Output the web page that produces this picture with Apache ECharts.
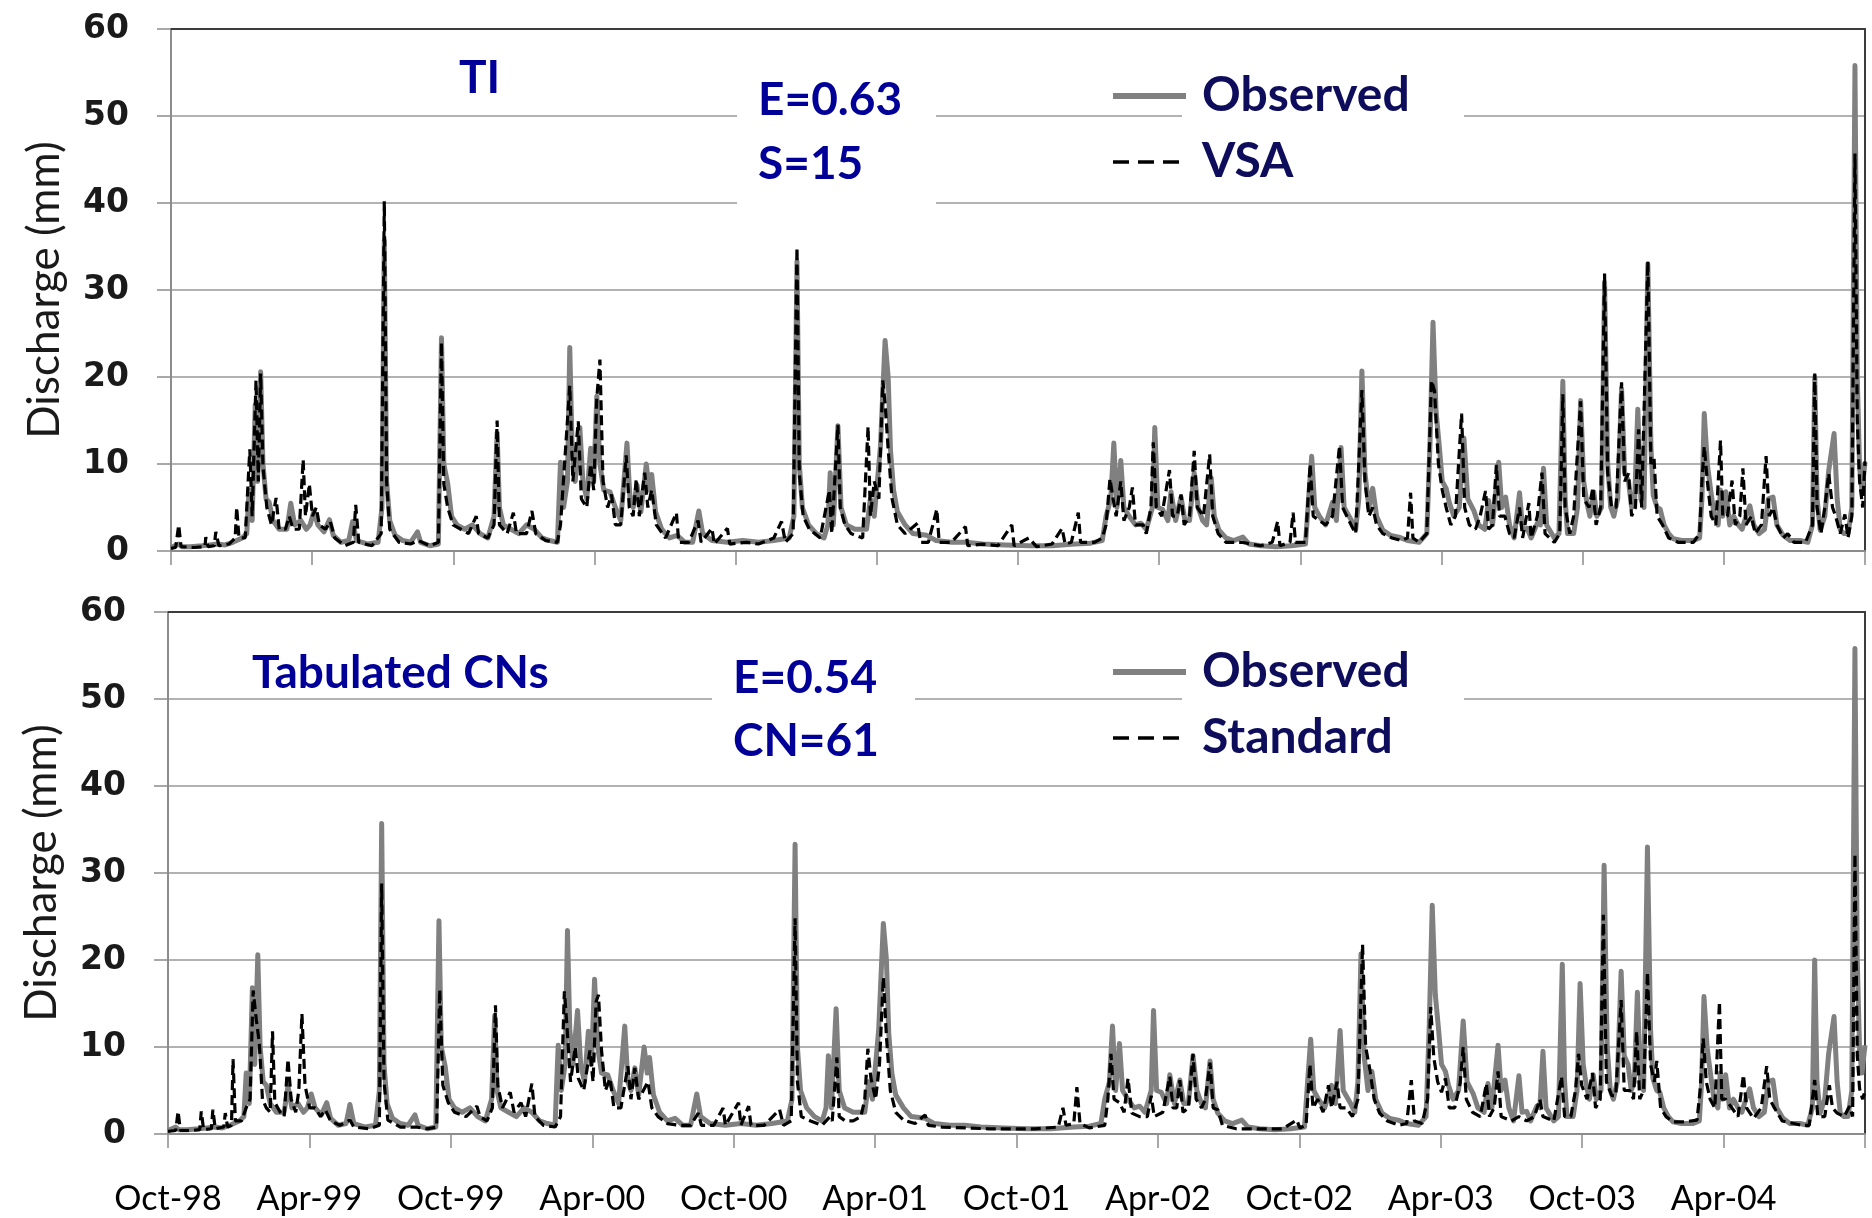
<!DOCTYPE html>
<html>
<head>
<meta charset="utf-8">
<title>Discharge: observed vs simulated</title>
<script src="https://cdn.jsdelivr.net/npm/echarts@6.0.0/dist/echarts.min.js"></script>
<style>
    html, body { margin: 0; padding: 0; background: #fff; }
    #container { width: 1872px; height: 1218px; }
</style>
</head>
<body>
<div id="container"></div>
<script>
// x values are days since 1 Oct 1998, y values are discharge in mm
var tickLabels = ['Oct-98', 'Apr-99', 'Oct-99', 'Apr-00', 'Oct-00', 'Apr-01',
    'Oct-01', 'Apr-02', 'Oct-02', 'Apr-03', 'Oct-03', 'Apr-04'];

var observed = [
    [0,0.4],[10,0.8],[14,0.5],[25,0.5],[40,0.6],[50,0.7],[60,0.8],[70,0.7],[80,1.0],[92,1.5],[98,2],
    [101,7.0],[105,3.5],[109,16.8],[112,8],[116,20.6],[119,10],[123,6],[127,5.6],[132,3.5],[140,2.5],
    [150,2.5],[155,5.5],[160,3],[168,3.5],[175,2.5],[180,3],[185,4.6],[190,3],[198,2.2],[205,3.6],
    [210,1.8],[220,1.0],[230,1.2],[235,3.4],[240,1.2],[255,0.8],[268,1.0],[273,5],[276,35.7],[279,8],
    [283,3.5],[290,1.8],[300,1.2],[310,1.0],[319,2.2],[323,1.0],[335,0.6],[346,0.8],[350,24.5],[353,10],
    [358,7.8],[363,4],[370,3.0],[380,2.5],[390,3.0],[400,2.0],[410,1.5],[418,4],[422,13.6],[425,5],
    [430,3],[440,2.5],[450,2.0],[460,3.0],[470,2.5],[480,1.5],[490,1.2],[500,1.0],[504,10.2],[508,5],
    [513,8],[516,23.4],[519,12],[523,8],[529,14.2],[533,8],[538,6],[543,11.8],[547,8],[551,17.8],
    [555,10],[560,7],[568,6.8],[575,5],[582,3.5],[590,12.4],[594,6],[598,5],[603,7.6],[608,4.5],
    [615,10],[619,7],[622,8.8],[627,4.5],[635,2.5],[645,1.5],[655,1.8],[665,1.0],[675,1.0],[683,4.6],
    [688,2.0],[700,1.2],[720,1.0],[740,1.2],[760,1.0],[780,1.2],[800,1.5],[806,4],[810,33.3],[813,10],
    [817,5],[825,3],[835,2],[845,1.5],[850,3],[853,9],[857,3],[863,14.4],[867,5],[874,3],[885,2.5],
    [895,2.5],[900,2.5],[905,6],[910,4],[918,12],[924,24.2],[928,20],[931,11.6],[935,7],[940,4.5],
    [950,3],[960,2],[978,1.8],[990,1.2],[1010,1.0],[1029,1.0],[1050,0.8],[1080,0.7],[1110,0.6],
    [1140,0.6],[1170,0.8],[1190,0.9],[1205,1.2],[1210,4],[1216,6],[1220,12.4],[1224,5],[1229,10.4],
    [1233,5],[1240,4],[1248,3],[1255,3.2],[1262,2.5],[1270,5],[1273,14.2],[1277,5],[1283,4.8],
    [1290,3.5],[1294,6.8],[1300,3.5],[1307,6.2],[1312,3.5],[1318,3.5],[1324,9],[1329,5],[1335,3.5],
    [1340,3],[1346,8.4],[1350,4],[1356,2.4],[1365,1.5],[1375,1.2],[1387,1.6],[1395,0.8],[1410,0.6],
    [1430,0.5],[1450,0.6],[1468,0.8],[1472,6],[1476,10.9],[1480,5],[1486,4],[1494,3],[1503,5.6],
    [1508,3.5],[1514,11.9],[1518,5],[1527,3.6],[1533,2.5],[1537,6],[1541,20.7],[1545,9],[1550,5],
    [1555,7.2],[1560,4],[1568,2.4],[1578,1.8],[1589,1.6],[1600,1.2],[1615,1.0],[1625,2],[1629,12],
    [1633,26.3],[1637,16],[1641,12.2],[1645,8],[1650,7.2],[1654,5.6],[1660,4],[1667,5],[1673,13],
    [1678,6],[1686,4.6],[1692,3],[1700,2.5],[1705,5.8],[1710,3],[1718,10.2],[1722,5],[1727,6.2],
    [1732,3],[1738,1.5],[1745,6.7],[1749,2.5],[1755,2.6],[1760,1.5],[1768,3.2],[1772,3],[1776,9.5],
    [1780,3],[1790,1.5],[1796,2],[1801,19.5],[1804,6],[1807,2.0],[1815,2],[1820,5],[1824,17.3],
    [1828,8],[1832,5.6],[1836,4],[1841,6.8],[1845,4],[1851,5],[1855,30.9],[1859,10],[1863,5],[1867,4],
    [1872,6],[1877,18.7],[1881,9],[1886,8],[1890,5],[1894,6],[1898,16.3],[1902,6],[1906,5],[1911,33],
    [1915,12],[1918,6.4],[1923,5],[1927,4.8],[1932,3],[1938,2],[1944,1.4],[1955,1.2],[1970,1.2],
    [1978,1.5],[1981,6],[1984,15.8],[1988,10],[1992,7.2],[1997,4],[2002,3],[2005,7],[2008,4],
    [2012,6.8],[2017,3],[2022,4],[2028,3],[2033,2.5],[2038,4],[2043,5.2],[2048,3],[2055,2],[2062,2.5],
    [2067,6],[2073,6.2],[2078,3],[2086,1.8],[2095,1.2],[2108,1.2],[2118,1.0],[2124,3],[2127,20],
    [2130,6],[2134,2.4],[2140,4],[2145,9.2],[2152,13.5],[2156,6],[2160,2.4],[2165,2],[2170,2],[2175,5],
    [2179,55.8],[2182,20],[2185,9.6],[2188,7],[2192,10.2]
];

// TI based model (top panel)
var vsa = [
    [0,0.3],[6,0.4],[10,3.0],[13,0.5],[30,0.4],[44,0.5],[45,1.6],[48,0.5],[56,0.6],[58,2.2],[62,0.6],
    [75,0.8],[83,1.5],[85,5],[88,1.5],[96,1.5],[102,11.7],[105,4],[110,19.6],[113,8],[116,20.4],
    [119,9.7],[124,5],[130,3],[136,6.1],[140,2.5],[148,2.5],[153,4],[158,2.5],[166,2.5],[171,10.5],
    [174,4],[179,7.7],[183,4],[188,5],[192,3],[200,2.5],[206,3.4],[212,1.5],[225,0.6],[236,1],
    [239,5.3],[243,1.0],[260,0.6],[272,2],[276,40.2],[279,8],[283,2.5],[295,1],[310,0.8],[320,1.2],
    [335,0.6],[346,1],[350,24],[353,7.7],[358,5],[365,3],[375,2.5],[385,2],[395,4],[398,2],[410,1.5],
    [418,3],[422,15],[425,3],[435,2],[443,4.4],[447,2],[460,2],[467,4.6],[472,2],[485,1.2],[500,1.0],
    [504,3],[516,19],[520,8],[527,14.9],[531,6],[538,5],[543,10],[547,7],[551,17.6],[555,22],[559,8],
    [565,5],[570,6.5],[575,3],[582,3],[589,11],[593,5],[598,4],[602,8.3],[606,4],[613,9],[617,5],
    [622,7],[628,3],[640,1.5],[654,4.4],[657,1],[670,1],[682,3.5],[686,1],[700,2.6],[703,0.8],
    [720,2.6],[723,0.8],[745,1],[760,0.8],[780,1.5],[790,3.4],[795,1],[805,2],[810,34.9],[813,9],
    [818,4],[826,2.5],[840,1.5],[852,7],[855,2],[863,14.5],[866,5],[872,3],[880,2],[895,1.5],
    [902,14.3],[905,4],[910,8],[916,6],[921,19.6],[924,17],[928,11.7],[933,6],[940,3],[950,2],
    [966,3.2],[970,1],[980,1],[991,4.8],[994,1],[1010,1],[1028,2.8],[1031,0.6],[1050,0.8],[1070,0.6],
    [1088,3],[1091,0.6],[1110,1.5],[1120,0.5],[1140,0.8],[1153,2.6],[1157,0.8],[1165,1],[1174,4.4],
    [1177,1],[1195,1],[1205,1.5],[1210,3],[1215,8.3],[1219,6],[1223,4],[1229,8],[1233,3.5],[1240,5],
    [1244,7.3],[1248,3],[1258,3],[1262,2],[1268,5],[1271,12.5],[1275,5],[1282,4],[1292,9.3],[1296,4],
    [1302,4],[1307,6.5],[1311,3],[1318,4],[1324,11.5],[1328,5],[1336,4],[1344,11.1],[1348,4],
    [1355,2],[1365,1],[1385,1],[1410,0.6],[1425,1],[1432,3.4],[1435,0.6],[1448,1],[1452,4.4],
    [1455,1],[1468,1],[1474,10],[1478,4],[1486,3.5],[1494,3],[1503,4],[1512,12.1],[1516,5],[1527,3],
    [1533,2],[1541,18.5],[1545,8],[1550,4],[1555,5],[1560,3],[1568,2],[1580,1.5],[1592,1.2],
    [1600,1.5],[1604,6.7],[1607,1.5],[1615,1],[1625,2],[1631,19.6],[1635,18.4],[1640,10],[1645,7],
    [1650,5],[1656,3],[1662,4],[1670,15.8],[1674,5],[1680,3],[1688,2.5],[1694,4],[1701,6.9],
    [1705,2.5],[1710,3],[1715,9.9],[1719,4],[1726,4],[1732,2],[1738,1.5],[1745,5],[1749,1.5],
    [1757,5.5],[1760,1.5],[1768,4],[1774,9],[1778,2],[1790,1],[1797,2],[1801,18],[1804,5],[1810,2],
    [1815,4],[1819,10],[1824,17.2],[1828,6],[1835,5],[1840,7.3],[1844,3],[1850,5],[1855,31.9],
    [1859,9],[1864,5],[1870,5],[1877,19.4],[1881,8],[1886,8.9],[1890,4],[1895,5],[1899,14],[1903,5],
    [1911,33.3],[1915,10],[1919,10.7],[1923,4],[1930,3],[1938,1.5],[1950,1],[1970,1],[1978,2],
    [1981,8],[1984,12],[1988,8],[1993,4],[1999,3],[2005,12.7],[2008,4],[2014,4],[2020,8.1],[2024,3],
    [2030,4],[2034,9.5],[2038,3],[2045,4],[2050,2],[2058,3],[2064,10.9],[2068,4],[2073,5],[2078,3],
    [2086,1.5],[2092,2],[2100,1],[2115,1],[2124,3],[2127,20.4],[2130,5],[2135,2],[2140,5],[2145,8.9],
    [2150,5],[2154,4],[2160,2],[2166,4.2],[2170,1.5],[2175,4],[2179,45.7],[2182,15],[2185,8],
    [2189,5],[2192,10.3]
];

// tabulated curve numbers (bottom panel)
var standard = [
    [0,0.3],[10,0.4],[13,2.6],[16,0.4],[30,0.4],[41,0.5],[43,2.6],[46,0.5],[56,0.6],[58,2.8],[61,0.6],
    [72,0.8],[74,2.4],[77,0.8],[82,1],[84,8.6],[87,1.5],[95,1.5],[101,3],[106,4],[110,16.5],
    [114,13.2],[118,10.4],[122,4],[127,3],[132,2.5],[135,11.8],[138,3.6],[145,2.5],[150,2],[155,8.6],
    [159,4],[165,2.5],[169,5],[173,13.8],[177,5.6],[183,3],[190,3],[197,2],[203,2.8],[210,1.5],
    [222,1.0],[235,1.6],[240,0.8],[260,0.6],[273,1],[276,28.8],[279,6],[284,1.6],[300,0.8],[320,0.8],
    [335,0.6],[347,0.8],[351,16.6],[355,5.6],[362,3.6],[370,2.5],[385,2],[399,3.2],[403,2],[412,1.5],
    [419,3],[423,14.8],[426,5.6],[432,3],[442,4.8],[447,2.5],[456,3.6],[462,2],[470,5.8],[474,2],
    [485,1],[500,0.8],[507,2],[512,16.4],[515,12.8],[520,6],[526,10],[530,6.4],[537,5],[545,9.6],
    [549,6],[553,15.2],[556,16],[560,9.6],[565,5],[571,6.4],[576,3],[585,3],[594,7.8],[598,4],
    [603,7.6],[608,4],[614,5],[620,6],[625,3],[633,2],[645,1.2],[660,1],[675,1],[685,2.4],[689,1],
    [705,1],[717,3],[720,1],[737,3.6],[740,1],[750,3.2],[753,1],[770,1],[790,2.8],[795,1],[805,1.5],
    [810,24.8],[813,6],[818,2],[830,1.5],[845,1],[855,2],[858,1.5],[864,8.8],[867,2],[875,1.5],
    [885,1.5],[895,2],[900,4],[904,9.8],[908,6.4],[914,4],[919,8],[924,18],[928,11.2],[933,5],
    [940,2.5],[950,1.6],[965,1.2],[978,2.2],[982,1],[1000,0.8],[1030,0.7],[1060,0.6],[1090,0.6],
    [1120,0.6],[1150,0.8],[1156,3],[1160,1],[1170,1.2],[1174,5.4],[1178,1.2],[1190,0.7],[1210,1],
    [1214,4],[1218,9.2],[1222,4],[1229,3.6],[1235,2.5],[1240,6.4],[1245,2.4],[1255,2],[1265,2],
    [1270,4.4],[1274,2],[1285,2.5],[1294,6.6],[1298,3],[1303,3],[1307,6.2],[1311,2.5],[1318,3],
    [1324,9.2],[1328,4],[1335,3],[1340,4],[1346,8.2],[1350,3],[1356,2.8],[1362,1],[1380,0.6],
    [1410,0.6],[1440,0.6],[1458,1.6],[1462,0.7],[1470,1],[1475,8],[1479,3],[1485,4],[1492,2.5],
    [1499,5.6],[1503,3],[1510,6],[1514,3],[1522,3],[1530,2],[1537,4],[1543,21.8],[1547,10],
    [1552,7.6],[1558,4],[1565,2.4],[1575,1.5],[1590,1],[1600,1.2],[1606,6.2],[1610,1.5],[1620,1.2],
    [1627,4],[1631,14.6],[1635,8.8],[1640,6],[1645,4.8],[1650,6.4],[1655,3],[1662,3],[1669,5.8],
    [1673,10],[1677,4],[1685,2.5],[1695,2],[1703,5.8],[1707,2],[1713,3],[1718,7.2],[1722,2],
    [1735,1.5],[1745,2],[1755,1.5],[1765,2],[1772,4],[1776,2],[1790,1.5],[1800,6.6],[1804,2],
    [1812,2],[1818,5],[1822,9.2],[1826,5.6],[1833,4],[1840,7],[1844,3],[1850,4],[1854,25.2],[1858,6],
    [1865,4.4],[1870,4.4],[1877,15.4],[1881,5],[1888,5],[1893,4],[1897,11.8],[1901,4],[1906,5],
    [1911,18.6],[1915,8],[1920,6],[1923,8.4],[1928,3],[1935,2],[1944,1.4],[1960,1.4],[1975,1.6],
    [1979,5],[1983,11],[1987,6],[1992,4],[1998,3],[2004,15.2],[2007,4],[2012,4],[2020,3],[2028,2],
    [2035,6.8],[2039,3],[2048,1.8],[2058,3],[2065,7.8],[2069,4],[2075,3],[2085,1.5],[2100,1.2],
    [2110,1],[2120,1],[2127,6.2],[2131,2],[2140,2],[2146,5.6],[2150,3],[2156,2.4],[2165,2],[2172,3.2],
    [2176,2],[2179,32.2],[2182,9],[2185,5.2],[2189,4],[2192,5]
];

var totalDays = 2192;           // 1 Oct 1998 .. 1 Oct 2004
var step = totalDays / 12;      // one tick every six months

function draw() {
    var dom = document.getElementById('container');
    var myChart = echarts.init(dom, null, { renderer: 'canvas' });

    var gridGrey = '#8c8c8c';
    var frame = '#3c3c3c';
    var blue = '#000099';
    var navy = '#0d0d5c';
    var hidden = { color: 'rgba(0,0,0,0)', borderColor: 'rgba(0,0,0,0)', borderWidth: 0, opacity: 0 };

    function bottomAxis(i, labels) {
        return {
            gridIndex: i,
            type: 'value',
            min: 0,
            max: totalDays,
            interval: step,
            axisLine: { onZero: false, lineStyle: { color: gridGrey, width: 2 } },
            axisTick: { length: 14, lineStyle: { color: gridGrey, width: 1.5 } },
            axisLabel: {
                show: labels,
                margin: 48,
                fontFamily: 'Lato',
                fontSize: 34,
                color: '#000',
                formatter: function (v) {
                    return tickLabels[Math.round(v / step)] || '';
                }
            },
            splitLine: { show: false }
        };
    }

    // dark frame along the top and right edge of each panel
    function frameAxis(i, pos, isX) {
        var a = {
            gridIndex: i,
            type: 'value',
            position: pos,
            axisLine: { show: true, onZero: false, lineStyle: { color: frame, width: 2 } },
            axisTick: { show: false },
            axisLabel: { show: false },
            splitLine: { show: false }
        };
        if (isX) { a.min = 0; a.max = totalDays; } else { a.min = 0; a.max = 60; }
        return a;
    }

    function leftAxis(i) {
        return {
            gridIndex: i,
            type: 'value',
            min: 0,
            max: 60,
            interval: 10,
            name: 'Discharge (mm)',
            nameLocation: 'middle',
            nameGap: 104,
            nameTextStyle: { fontFamily: 'Lato', fontSize: 44, color: '#1a1a1a' },
            axisLine: { show: true, lineStyle: { color: gridGrey, width: 2 } },
            axisTick: { show: true, length: 14, lineStyle: { color: gridGrey, width: 1.5 } },
            axisLabel: {
                margin: 42,
                fontFamily: 'DejaVu Sans',
                fontWeight: 'bold',
                fontSize: 33,
                color: '#1a1a1a'
            },
            splitLine: { show: true, lineStyle: { color: '#999', width: 1.5 } }
        };
    }

    function legendFor(top, simName) {
        return {
            orient: 'vertical',
            left: 1105,
            top: top,
            itemWidth: 73,
            itemHeight: 14,
            itemGap: 18,
            selectedMode: false,
            z: 10,
            textStyle: {
                fontFamily: 'Lato',
                fontSize: 48,
                fontWeight: 'bold',
                color: navy,
                lineHeight: 48,
                padding: [0, 0, 0, 11]
            },
            data: [
                { name: 'Observed', itemStyle: hidden, lineStyle: { color: '#808080', width: 6 } },
                { name: simName, itemStyle: hidden, lineStyle: { color: '#000', width: 3.5, type: [16, 9] } }
            ]
        };
    }

    function whiteBox(x, y, w, h) {
        return { type: 'rect', z: 1, shape: { x: x, y: y, width: w, height: h }, style: { fill: '#fff' } };
    }

    function label(x, y, txt) {
        return {
            type: 'text', z: 5, x: x, y: y,
            style: {
                text: txt, fill: blue, fontFamily: 'Lato', fontWeight: 'bold',
                fontSize: 46, verticalAlign: 'middle'
            }
        };
    }

    function obsSeries(i) {
        return {
            name: 'Observed',
            type: 'line',
            xAxisIndex: i,
            yAxisIndex: i,
            data: observed,
            symbol: 'none',
            color: '#808080',
            lineStyle: { color: '#808080', width: 5, join: 'round' },
            z: 2
        };
    }

    function simSeries(i, name, data) {
        return {
            name: name,
            type: 'line',
            xAxisIndex: i,
            yAxisIndex: i,
            data: data,
            symbol: 'none',
            color: '#000',
            lineStyle: { color: '#000', width: 3.2, type: [10, 5] },
            z: 3
        };
    }

    var option = {
        backgroundColor: '#fff',
        animation: false,
        grid: [
            { left: 171, top: 29, width: 1694, height: 522 },
            { left: 168, top: 612, width: 1697, height: 522 }
        ],
        xAxis: [
            bottomAxis(0, false),
            bottomAxis(1, true),
            frameAxis(0, 'top', true),
            frameAxis(1, 'top', true)
        ],
        yAxis: [
            leftAxis(0),
            leftAxis(1),
            frameAxis(0, 'right', false),
            frameAxis(1, 'right', false)
        ],
        legend: [
            legendFor(67, 'VSA'),
            legendFor(643, 'Standard')
        ],
        graphic: {
            elements: [
                whiteBox(737, 60, 199, 155),
                whiteBox(1182, 58, 282, 125),
                whiteBox(712, 640, 203, 135),
                whiteBox(1182, 640, 282, 125),
                label(459, 78, 'TI'),
                label(758, 100, 'E=0.63'),
                label(758, 164, 'S=15'),
                label(252, 673, 'Tabulated CNs'),
                label(733, 678, 'E=0.54'),
                label(733, 741, 'CN=61')
            ]
        },
        series: [
            obsSeries(0),
            simSeries(0, 'VSA', vsa),
            obsSeries(1),
            simSeries(1, 'Standard', standard)
        ]
    };

    myChart.setOption(option);
    window.addEventListener('resize', myChart.resize);
}

draw();
</script>
</body>
</html>
